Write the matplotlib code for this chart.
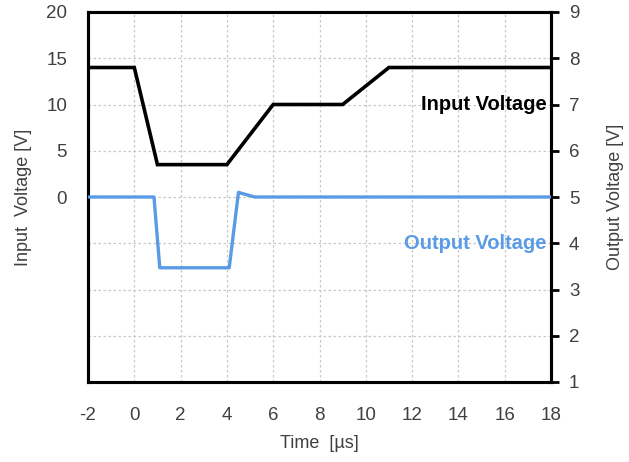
import numpy as np
import matplotlib
matplotlib.use("Agg")
import matplotlib.pyplot as plt

# input voltage trace (left axis), piecewise from the scope capture
t_in = [-2.0, 0.0, 1.0, 4.0, 6.0, 9.0, 11.0, 18.0]
v_in = [14.0, 14.0, 3.5, 3.5, 10.0, 10.0, 14.0, 14.0]

# output voltage trace (right axis)
t_out = [-2.0, 0.85, 1.1, 4.1, 4.5, 4.7, 5.2, 18.0]
v_out = [5.0, 5.0, 3.47, 3.47, 5.1, 5.07, 5.0, 5.0]

x_ticks = list(range(-2, 19, 2))
left_ticks = list(range(-20, 21, 5))
right_ticks = list(range(1, 10))

TXT = "#404040"
BLUE = "#5A9BE6"
plt.rcParams["font.family"] = ["Liberation Sans", "DejaVu Sans"]
plt.rcParams["axes.unicode_minus"] = False

fig = plt.figure(figsize=(6.29, 4.62), dpi=100)
ax = fig.add_axes([88 / 629, 80 / 462, 463 / 629, 370 / 462])
ax2 = ax.twinx()

ax.set_xlim(-2, 18)
ax.set_ylim(-20, 20)
ax2.set_ylim(1, 9)

ax.set_xticks(x_ticks)
ax.set_yticks(left_ticks)
ax.set_yticklabels([str(v) if v >= 0 else "" for v in left_ticks])
ax2.set_yticks(right_ticks)

ax.grid(True, color="#c8c8c8", linestyle=(0, (2, 2)), linewidth=0.9)
ax.set_axisbelow(True)

ax.plot(t_in, v_in, color="black", lw=2.6, solid_joinstyle="miter", zorder=3)
ax2.plot(t_out, v_out, color=BLUE, lw=2.4, zorder=3)

ax.text(17.8, 10.0, "Input Voltage", ha="right", va="center",
        fontsize=14.5, fontweight="bold", color="black")
ax2.text(17.8, 4.0, "Output Voltage", ha="right", va="center",
         fontsize=14.5, fontweight="bold", color=BLUE)

for a in (ax, ax2):
    for s in a.spines.values():
        s.set_linewidth(2.2)
        s.set_color("black")

ax.tick_params(axis="y", length=0, pad=15, labelsize=13.5, labelcolor=TXT)
ax.tick_params(axis="x", length=0, pad=18, labelsize=13.5, labelcolor=TXT)
ax2.tick_params(axis="y", direction="out", length=6, width=2, pad=7,
                labelsize=13.5, labelcolor=TXT)

ax.set_xlabel("Time  [µs]", fontsize=13, color=TXT, labelpad=8)
ax.set_ylabel("Input  Voltage [V]", fontsize=13, color=TXT, labelpad=10)
ax2.set_ylabel("Output Voltage [V]", fontsize=13, color=TXT, labelpad=20)

fig.savefig("out.png", dpi=100)
